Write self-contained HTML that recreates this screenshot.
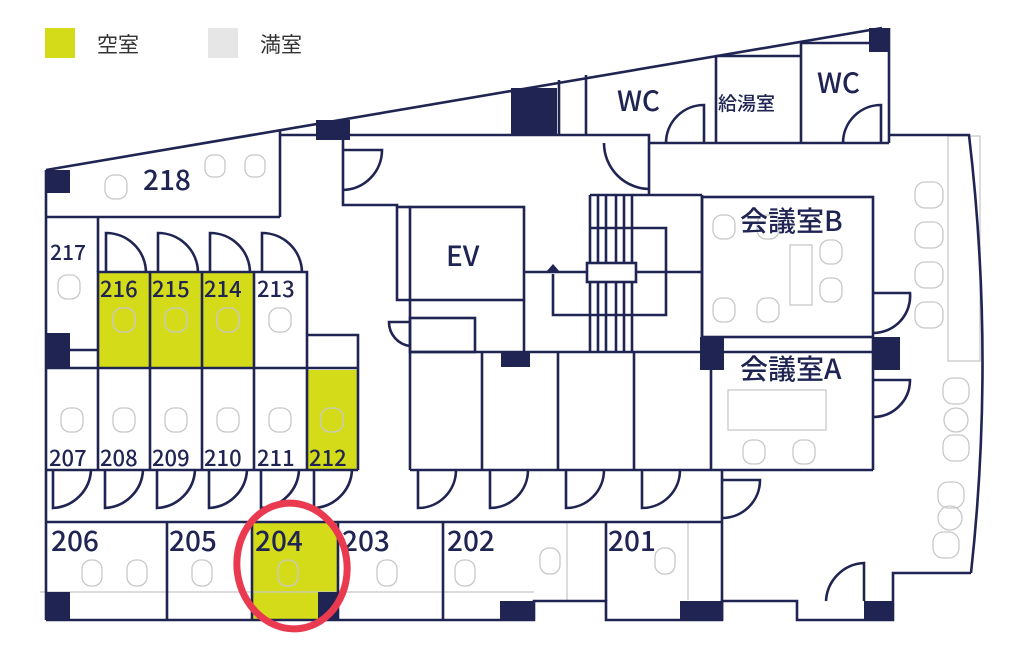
<!DOCTYPE html>
<html><head><meta charset="utf-8"><style>
html,body{margin:0;padding:0;background:#fff;}
svg{display:block;}
text{font-family:"Noto Sans CJK JP","Liberation Sans",sans-serif;fill:#1f2452;font-weight:500;}
</style></head><body>
<svg width="1024" height="649" viewBox="0 0 1024 649" xmlns="http://www.w3.org/2000/svg">
<rect x="45" y="28" width="30" height="30" fill="#d4dc1a"/>
<text x="97" y="52" font-size="21" style="fill:#333;font-weight:400">空室</text>
<rect x="208" y="28" width="30" height="30" fill="#e6e6e6"/>
<text x="260" y="52" font-size="21" style="fill:#333;font-weight:400">満室</text>

<g fill="#d4dc1a">
<rect x="98" y="272" width="52" height="96"/>
<rect x="150" y="272" width="52" height="96"/>
<rect x="202" y="272" width="52" height="96"/>
<rect x="307" y="370" width="51" height="100"/>
<rect x="252" y="522" width="86" height="98"/>
</g>

<g fill="none" stroke="#c8c8c8" stroke-width="1.3">
<rect x="105" y="175" width="22" height="24" rx="9"/>
<rect x="205" y="155" width="20" height="22" rx="8"/>
<rect x="245" y="155" width="20" height="22" rx="8"/>
<rect x="58" y="275" width="22" height="24" rx="9"/>
<rect x="113" y="308" width="22" height="24" rx="9"/>
<rect x="165" y="308" width="22" height="24" rx="9"/>
<rect x="217" y="308" width="22" height="24" rx="9"/>
<rect x="269" y="308" width="22" height="24" rx="9"/>
<rect x="61" y="408" width="22" height="24" rx="9"/>
<rect x="113" y="408" width="22" height="24" rx="9"/>
<rect x="165" y="408" width="22" height="24" rx="9"/>
<rect x="217" y="408" width="22" height="24" rx="9"/>
<rect x="269" y="408" width="22" height="24" rx="9"/>
<rect x="321" y="408" width="22" height="24" rx="9"/>
<rect x="82" y="560" width="20" height="26" rx="9"/>
<rect x="127" y="560" width="20" height="26" rx="9"/>
<rect x="192" y="560" width="20" height="26" rx="9"/>
<rect x="278" y="560" width="20" height="26" rx="9"/>
<rect x="377" y="560" width="20" height="26" rx="9"/>
<rect x="455" y="560" width="20" height="26" rx="9"/>
<rect x="540" y="548" width="20" height="26" rx="9"/>
<rect x="655" y="548" width="20" height="26" rx="9"/>
<line x1="534" y1="592" x2="40" y2="592"/>
<line x1="567" y1="522" x2="567" y2="600"/>
<line x1="688" y1="522" x2="688" y2="600"/>
<rect x="713" y="215" width="22" height="24" rx="9"/>
<rect x="757" y="215" width="22" height="24" rx="9"/>
<rect x="820" y="240" width="22" height="24" rx="9"/>
<rect x="820" y="278" width="22" height="24" rx="9"/>
<rect x="713" y="298" width="22" height="24" rx="9"/>
<rect x="757" y="298" width="22" height="24" rx="9"/>
<rect x="790" y="245" width="22" height="60"/>
<rect x="728" y="390" width="98" height="40"/>
<rect x="743" y="440" width="22" height="24" rx="9"/>
<rect x="793" y="440" width="22" height="24" rx="9"/>
<rect x="915" y="182" width="28" height="26" rx="10"/>
<rect x="915" y="222" width="28" height="26" rx="10"/>
<rect x="915" y="262" width="28" height="26" rx="10"/>
<rect x="915" y="302" width="28" height="26" rx="10"/>
<rect x="948" y="136" width="32" height="225"/>
<rect x="943" y="378" width="26" height="26" rx="10"/>
<circle cx="956" cy="420" r="12"/>
<rect x="943" y="435" width="26" height="26" rx="10"/>
<rect x="938" y="482" width="26" height="26" rx="10"/>
<circle cx="950" cy="518" r="12"/>
<rect x="933" y="532" width="26" height="26" rx="10"/>
</g>

<g fill="none" stroke="#1f2452" stroke-width="2.6">
<line x1="46" y1="170" x2="882" y2="28"/>
<line x1="46" y1="170" x2="46" y2="620"/>
<polyline points="46,620 534,620 534,601 606,601 606,620 722,620 722,601 797,601 797,620 893,620 893,573 971,573"/>
<path d="M971,573 Q995,355 969,135 L889,135"/>
<line x1="46" y1="217" x2="280" y2="217"/>
<line x1="280" y1="217" x2="280" y2="130"/>
<line x1="98" y1="217" x2="98" y2="272"/>
<line x1="46" y1="350" x2="98" y2="350"/>
<polyline points="98,368 98,272 307,272 307,368"/>
<line x1="150" y1="272" x2="150" y2="368"/>
<line x1="202" y1="272" x2="202" y2="368"/>
<line x1="254" y1="272" x2="254" y2="470"/>
<polyline points="307,335 358,335 358,470"/>
<line x1="46" y1="368" x2="358" y2="368"/>
<line x1="46" y1="470" x2="358" y2="470"/>
<line x1="98" y1="368" x2="98" y2="470"/>
<line x1="150" y1="368" x2="150" y2="470"/>
<line x1="202" y1="368" x2="202" y2="470"/>
<line x1="307" y1="368" x2="307" y2="470"/>
<path d="M106,272 V233 A40,40 0 0 1 146,272"/>
<path d="M158,272 V233 A40,40 0 0 1 198,272"/>
<path d="M210,272 V233 A40,40 0 0 1 250,272"/>
<path d="M262,272 V233 A40,40 0 0 1 302,272"/>
<path d="M53,470 V508 A40,40 0 0 0 91,470"/>
<path d="M105,470 V508 A40,40 0 0 0 143,470"/>
<path d="M157,470 V508 A40,40 0 0 0 195,470"/>
<path d="M209,470 V508 A40,40 0 0 0 247,470"/>
<path d="M261,470 V508 A40,40 0 0 0 299,470"/>
<path d="M314,470 V508 A40,40 0 0 0 352,470"/>
<line x1="46" y1="522" x2="722" y2="522"/>
<line x1="167" y1="522" x2="167" y2="620"/>
<line x1="252" y1="522" x2="252" y2="620"/>
<line x1="338" y1="522" x2="338" y2="620"/>
<line x1="443" y1="522" x2="443" y2="620"/>
<line x1="606" y1="522" x2="606" y2="601"/>
<line x1="722" y1="470" x2="722" y2="620"/>
<path d="M722,480 H760 A38,38 0 0 1 722,518"/>
<path d="M826,601 A40,40 0 0 1 864,563 V601"/>
<polyline points="280,135 649,135 649,195"/>
<polyline points="343,135 343,205 397,205 397,300 410,300"/>
<path d="M343,150 H382 A40,40 0 0 1 343,190"/>
<path d="M604,143 A46,46 0 0 0 650,189"/>
<line x1="559" y1="80" x2="559" y2="135"/>
<line x1="586" y1="75" x2="586" y2="135"/>
<polyline points="649,143 889,143"/>
<line x1="716" y1="57" x2="716" y2="143"/>
<line x1="801" y1="43" x2="801" y2="143"/>
<line x1="889" y1="28" x2="889" y2="143"/>
<line x1="716" y1="56" x2="801" y2="56"/>
<line x1="801" y1="43" x2="871" y2="43"/>
<path d="M666,143 A38,38 0 0 1 704,105 V143"/>
<path d="M843,143 A38,38 0 0 1 881,105 V143"/>
<rect x="410" y="207" width="114" height="93"/>
<line x1="397" y1="207" x2="410" y2="207"/>
<line x1="524" y1="300" x2="524" y2="352"/>
<rect x="410" y="318" width="65" height="34"/>
<line x1="410" y1="300" x2="410" y2="470"/>
<path d="M410,322 H389 A24,24 0 0 0 410,346"/>
<line x1="590" y1="195" x2="702" y2="195"/>
<line x1="590" y1="195" x2="590" y2="352"/>
<line x1="598" y1="195" x2="598" y2="352"/>
<line x1="606" y1="195" x2="606" y2="352"/>
<line x1="616" y1="195" x2="616" y2="352"/>
<line x1="624" y1="195" x2="624" y2="352"/>
<line x1="632" y1="195" x2="632" y2="352"/>
<polyline points="590,228 666,228 666,315 553,315 553,274"/>
<line x1="524" y1="272" x2="702" y2="272"/>
<rect x="587" y="263" width="49" height="19" fill="#fff"/>
<line x1="410" y1="352" x2="873" y2="352"/>
<line x1="410" y1="470" x2="873" y2="470"/>
<line x1="482" y1="352" x2="482" y2="470"/>
<line x1="558" y1="352" x2="558" y2="470"/>
<line x1="634" y1="352" x2="634" y2="470"/>
<line x1="711" y1="352" x2="711" y2="470"/>
<path d="M418,470 V508 A38,38 0 0 0 456,470"/>
<path d="M490,470 V508 A38,38 0 0 0 528,470"/>
<path d="M566,470 V508 A38,38 0 0 0 604,470"/>
<path d="M642,470 V508 A38,38 0 0 0 680,470"/>
<rect x="702" y="197" width="171" height="140"/>
<line x1="702" y1="195" x2="702" y2="352"/>
<line x1="873" y1="337" x2="873" y2="470"/>
<path d="M873,293 H910 A37,37 0 0 1 873,333"/>
<path d="M873,380 H910 A37,37 0 0 1 873,417"/>
</g>
<polygon points="560,112 553,120 567,120" fill="#1f2452" transform="translate(-7,152)"/>

<g fill="#1f2452">
<rect x="46" y="170" width="24" height="23"/>
<rect x="316" y="120" width="34" height="20"/>
<rect x="511" y="88" width="46" height="47"/>
<rect x="869" y="28" width="20" height="24"/>
<rect x="46" y="333" width="24" height="34"/>
<rect x="501" y="352" width="29" height="15"/>
<rect x="700" y="337" width="24" height="33"/>
<rect x="873" y="337" width="27" height="33"/>
<rect x="46" y="592" width="24" height="28"/>
<rect x="318" y="592" width="20" height="28"/>
<rect x="500" y="601" width="34" height="19"/>
<rect x="680" y="601" width="42" height="19"/>
<rect x="864" y="601" width="29" height="19"/>
</g>

<text x="143" y="190" font-size="28">218</text>
<text x="50" y="260" font-size="21">217</text>
<g font-size="22">
<text x="100" y="297">216</text><text x="152" y="297">215</text><text x="204" y="297">214</text><text x="257" y="297">213</text>
<text x="49" y="466">207</text><text x="100" y="466">208</text><text x="152" y="466">209</text><text x="204" y="466">210</text><text x="257" y="466">211</text><text x="309" y="466">212</text>
</g>
<g font-size="28">
<text x="51" y="551">206</text><text x="169" y="551">205</text><text x="255" y="551">204</text><text x="342" y="551">203</text><text x="447" y="551">202</text><text x="608" y="551">201</text>
<text x="446" y="266">EV</text>
<text x="617" y="111">WC</text>
<text x="817" y="93">WC</text>
<text x="740" y="231">会議室B</text>
<text x="740" y="379">会議室A</text>
</g>
<text x="718" y="110" font-size="19">給湯室</text>

<ellipse cx="292" cy="566" rx="55" ry="63" fill="none" stroke="#ea3a50" stroke-width="7" transform="rotate(-8 292 566)"/>
</svg>
</body></html>
